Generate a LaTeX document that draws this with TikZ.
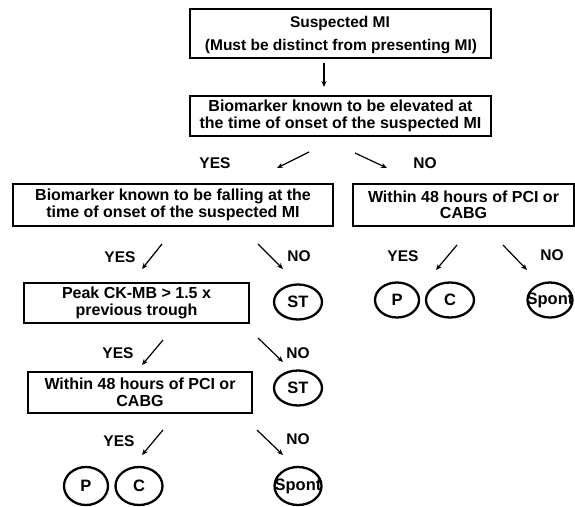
\documentclass[tikz,border=0pt]{standalone}
\usepackage{fontspec}
\setmainfont{Liberation Sans}
\usetikzlibrary{arrows.meta,shapes.geometric}
\tikzset{
  box/.style={draw, line width=1.6pt, inner sep=0pt, align=center, font=\bfseries\fontsize{16}{16.5}\selectfont},
  oval/.style={draw, ellipse, line width=2.3pt, inner sep=0pt, font=\bfseries\fontsize{16.5}{16.5}\selectfont},
  lbl/.style={font=\bfseries\fontsize{15.5}{16}\selectfont, inner sep=0pt},
  arr/.style={line width=1.2pt, -{Stealth[length=6pt,width=5pt]}}
}
\newcommand{\zw}[1]{\makebox[0pt]{#1}}
\begin{document}
\begin{tikzpicture}[x=1pt,y=-1pt]
\useasboundingbox (0,0) rectangle (575,506);
% boxes
\node[box, minimum width=301pt, minimum height=49pt] (b1) at (340.5,33.5) {};
\node[lbl] (b1a) at (340,23) {Suspected MI};
\node[lbl] (b1b) at (341,47) {(Must be distinct from presenting MI)};
\node[box, minimum width=301pt, minimum height=40pt] (b2) at (340.5,116) {Biomarker known to be elevated at\\the time of onset of the suspected MI};
\node[box, minimum width=320pt, minimum height=42pt] (b3) at (173,205) {Biomarker known to be falling at the\\time of onset of the suspected MI};
\node[box, minimum width=221pt, minimum height=42pt] (b4) at (463.5,205) {Within 48 hours of PCI or\\CABG};
\node[box, minimum width=225pt, minimum height=40pt] (b5) at (136.5,303) {Peak CK-MB > 1.5 x\\previous trough};
\node[box, minimum width=224pt, minimum height=41pt] (b6) at (140,392.5) {Within 48 hours of PCI or\\CABG};
% ovals
\node[oval, minimum width=48pt, minimum height=35pt] (st1) at (298,302) {\zw{ST}};
\node[oval, minimum width=48pt, minimum height=35pt] (st2) at (298,388) {\zw{ST}};
\node[oval, minimum width=44pt, minimum height=38pt] (p1) at (86,486) {\zw{P}};
\node[oval, minimum width=47pt, minimum height=38pt] (c1) at (139,486) {\zw{C}};
\node[oval, minimum width=47pt, minimum height=38pt] (s1) at (298,486) {\zw{Spont}};
\node[oval, minimum width=44pt, minimum height=35pt] (p2) at (397,300) {\zw{P}};
\node[oval, minimum width=48pt, minimum height=35pt] (c2) at (450,300) {\zw{C}};
\node[oval, minimum width=45pt, minimum height=35pt] (s2) at (550,300) {\zw{Spont}};
% labels
\node[lbl] (y0) at (215,163) {YES};
\node[lbl] (n0) at (425,163) {NO};
\node[lbl] (y1) at (120,257) {YES};
\node[lbl] (n1) at (299,256) {NO};
\node[lbl] (y2) at (403,256) {YES};
\node[lbl] (n2) at (552,255) {NO};
\node[lbl] (y3) at (118,353) {YES};
\node[lbl] (n3) at (298,353) {NO};
\node[lbl] (y4) at (119,441) {YES};
\node[lbl] (n4) at (298,439) {NO};
% arrow end points
\coordinate (a0s) at (324,63);  \coordinate (a0e) at (324,87);
\coordinate (l0s) at (309,152); \coordinate (l0e) at (277,168);
\coordinate (r0s) at (355,153); \coordinate (r0e) at (387,168);
\coordinate (l1s) at (162,244); \coordinate (l1e) at (142,269);
\coordinate (r1s) at (258,244); \coordinate (r1e) at (283,269);
\coordinate (l2s) at (457,245); \coordinate (l2e) at (436,270);
\coordinate (r2s) at (503,245); \coordinate (r2e) at (527,270);
\coordinate (l3s) at (163,340); \coordinate (l3e) at (142,365);
\coordinate (r3s) at (258,338); \coordinate (r3e) at (283,362);
\coordinate (l4s) at (163,430); \coordinate (l4e) at (142,455);
\coordinate (r4s) at (257,430); \coordinate (r4e) at (283,455);
\foreach \a in {a0,l0,r0,l1,r1,l2,r2,l3,r3,l4,r4}{
  \draw[arr] (\a s) -- (\a e);
}
\end{tikzpicture}
\end{document}
